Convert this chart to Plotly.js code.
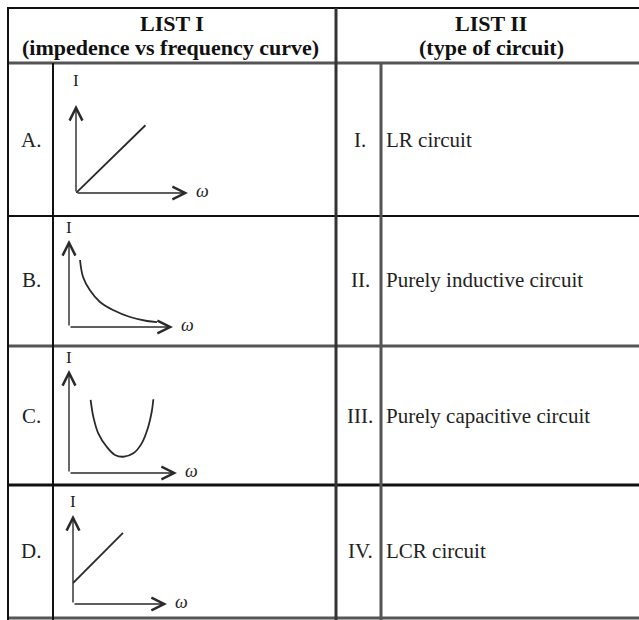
<!DOCTYPE html>
<html>
<head>
<meta charset="utf-8">
<script src="https://cdn.plot.ly/plotly-3.0.1.min.js"></script>
<style>html,body{margin:0;padding:0;background:#fff;}</style>
</head>
<body>
<div id="chart" style="width:639px;height:620px;"></div>
<script>
// ---- data ----
const headerListI = 'LIST I';
const subListI = '(impedence vs frequency curve)';
const headerListII = 'LIST II';
const subListII = '(type of circuit)';
const listILabels = ['A.', 'B.', 'C.', 'D.'];
const listIINumerals = ['I.', 'II.', 'III.', 'IV.'];
const listIITypes = ['LR circuit', 'Purely inductive circuit', 'Purely capacitive circuit', 'LCR circuit'];
const axisLabelY = 'I';
const axisLabelX = 'ω';

// curves (ω, I) in arbitrary units 0..10
const curveA_w = [0, 6.2];
const curveA_I = [0, 7.7];
const curveB_w = [1.06, 1.35, 2.0, 2.98, 4.23, 5.87, 7.5, 8.46];
const curveB_I = [7.7, 5.75, 4.25, 2.87, 1.95, 1.15, 0.69, 0.57];
const curveC_w = [2.0, 2.25, 2.71, 3.49, 4.26, 5.03, 5.96, 6.73, 7.34, 7.66, 7.81];
const curveC_I = [7.09, 5.47, 3.85, 2.55, 1.75, 1.58, 1.91, 2.88, 4.5, 5.95, 7.16];
const curveD_w = [0, 5.32];
const curveD_I = [2.36, 7.98];

// ---- layout helpers (pixel -> paper) ----
const W = 639, H = 620;
const X = px => px / W;
const Y = py => 1 - py / H;

const curves = [[curveA_w, curveA_I], [curveB_w, curveB_I], [curveC_w, curveC_I], [curveD_w, curveD_I]];
// mini-plot boxes: [x0, x1, yTop, yBottom] in pixels
const boxes = [[76, 188, 105, 193], [69, 173, 240, 327], [69, 177, 370, 473], [73, 167, 515, 604]];
const iLabelShift = [24, 13, 13, 14];
const rowCenters = [140, 280, 416, 551];

const traces = [];
const layout = {
  width: W, height: H,
  margin: {l: 0, r: 0, t: 0, b: 0},
  paper_bgcolor: '#fff', plot_bgcolor: 'rgba(0,0,0,0)',
  showlegend: false,
  shapes: [], annotations: []
};

curves.forEach((c, i) => {
  const n = i + 2;
  const b = boxes[i];
  traces.push({
    type: 'scatter', mode: 'lines', x: c[0], y: c[1],
    xaxis: 'x' + n, yaxis: 'y' + n,
    line: {color: '#2a2a2a', width: 1.8, shape: i === 1 || i === 2 ? 'spline' : 'linear'},
    hoverinfo: 'skip'
  });
  const ax = {range: [0, 10], showgrid: false, zeroline: false, showticklabels: false,
              showline: false, ticks: '', fixedrange: true};
  layout['xaxis' + n] = Object.assign({}, ax, {domain: [X(b[0]), X(b[1])], anchor: 'y' + n});
  layout['yaxis' + n] = Object.assign({}, ax, {domain: [Y(b[3]), Y(b[2])], anchor: 'x' + n});
  // axis arrows
  const arrowBase = {xref: 'x' + n, yref: 'y' + n, axref: 'x' + n, ayref: 'y' + n,
    text: '', showarrow: true, arrowhead: 5, arrowsize: 1.8, arrowwidth: 1.4, arrowcolor: '#2a2a2a', ax: 0, ay: 0};
  layout.annotations.push(Object.assign({}, arrowBase, {x: 10, y: 0}));
  layout.annotations.push(Object.assign({}, arrowBase, {x: 0, y: 10}));
  // axis labels
  layout.annotations.push({xref: 'x' + n, yref: 'y' + n, x: 0, y: 10, yshift: iLabelShift[i], text: axisLabelY,
    showarrow: false, font: {family: 'Liberation Serif', size: 17, color: '#222'}});
  layout.annotations.push({xref: 'x' + n, yref: 'y' + n, x: 10, y: 0, xanchor: 'left', xshift: 6, yshift: 2,
    text: '<i>' + axisLabelX + '</i>', showarrow: false, font: {family: 'Liberation Serif', size: 18, color: '#222'}});
});

// ---- table lines ----
function hline(y, color, w) {
  layout.shapes.push({type: 'line', xref: 'paper', yref: 'paper', x0: X(7), x1: X(639), y0: Y(y), y1: Y(y),
    line: {color: color, width: w}});
}
function vline(x, y0, y1, color, w) {
  layout.shapes.push({type: 'line', xref: 'paper', yref: 'paper', x0: X(x), x1: X(x), y0: Y(y0), y1: Y(y1),
    line: {color: color, width: w}});
}
hline(8, '#111', 2);
hline(63, '#555', 3);
hline(216, '#111', 2);
hline(346, '#555', 3);
hline(485, '#111', 3);
hline(618, '#555', 3);
vline(8, 8, 620, '#111', 2);
vline(53, 63, 620, '#111', 2);
vline(336, 8, 620, '#333', 3);
vline(381, 63, 620, '#555', 3);

// ---- text ----
const serif = 'Liberation Serif, Times New Roman, serif';
function txt(x, y, t, opts) {
  layout.annotations.push(Object.assign({xref: 'paper', yref: 'paper', x: X(x), y: Y(y), text: t,
    showarrow: false, xanchor: 'center', yanchor: 'middle',
    font: {family: serif, size: 21, color: '#222'}}, opts || {}));
}
txt(172, 24, '<b>' + headerListI + '</b>', {font: {family: serif, size: 22, color: '#111'}});
txt(170, 48, '<b>' + subListI + '</b>', {font: {family: serif, size: 22, color: '#111'}});
txt(491, 24, '<b>' + headerListII + '</b>', {font: {family: serif, size: 22, color: '#111'}});
txt(491, 48, '<b>' + subListII + '</b>', {font: {family: serif, size: 22, color: '#111'}});

listILabels.forEach((l, i) => txt(31, rowCenters[i], l));
listIINumerals.forEach((l, i) => txt(360, rowCenters[i], l));
listIITypes.forEach((l, i) => txt(384, rowCenters[i], l, {xanchor: 'left'}));

Plotly.newPlot('chart', traces, layout, {staticPlot: true, displayModeBar: false});
</script>
</body>
</html>
